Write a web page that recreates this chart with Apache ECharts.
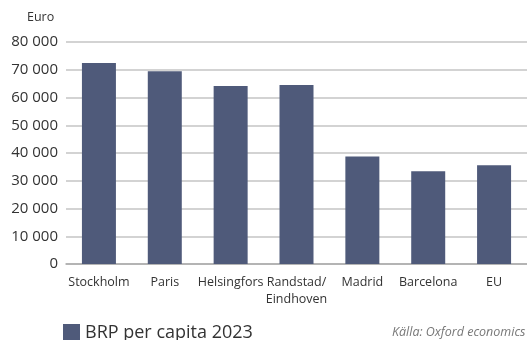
<!DOCTYPE html>
<html><head><meta charset="utf-8">
<script src="https://cdn.jsdelivr.net/npm/echarts@6/dist/echarts.min.js"></script>
<style>html,body{margin:0;padding:0;background:#fff}#c{width:527px;height:340px}</style>
</head><body><div id="c"></div>
<script>
const categories = ['Stockholm','Paris','Helsingfors','Randstad/\nEindhoven','Madrid','Barcelona','EU'];
const values = [72400, 69500, 64100, 64500, 38700, 33400, 35600];
const seriesName = 'BRP per capita 2023';
const yUnit = 'Euro';
const sourceText = 'Källa: Oxford economics';

const chart = echarts.init(document.getElementById('c'), null, {renderer:'canvas'});
const font = '"Open Sans", sans-serif';
chart.setOption({
  animation:false,
  grid:{left:66, right:-4, top:42, bottom:76},
  legend:{
    data:[seriesName], left:58, top:319, itemWidth:17, itemHeight:18, itemGap:10,
    icon:'rect',
    textStyle:{fontFamily:font, fontSize:18, color:'#333'}
  },
  graphic:[
    {type:'text', left:27, top:11, style:{text:yUnit, fontFamily:font, fontSize:12.5, fill:'#333'}},
    {type:'text', left:392, top:326, style:{text:sourceText, fontFamily:font, fontSize:12.5, fontStyle:'italic', fill:'#777'}}
  ],
  xAxis:{
    type:'category', data:categories,
    axisTick:{show:false},
    axisLine:{lineStyle:{color:'#aaa', width:1.5}},
    axisLabel:{fontFamily:font, fontSize:12.5, color:'#333', margin:10, interval:0, lineHeight:17}
  },
  yAxis:{
    type:'value', min:0, max:80000, interval:10000,
    axisLine:{show:false}, axisTick:{show:false},
    splitLine:{lineStyle:{color:'#c4c4c4', width:1.5}},
    axisLabel:{fontFamily:font, fontSize:15, color:'#333', margin:8,
      formatter:v=>v===0?'0':String(v).replace(/\B(?=(\d{3})+(?!\d))/g,' ')}
  },
  series:[{
    name:seriesName, type:'bar', data:values, barWidth:34,
    itemStyle:{color:'#4f5a7a'}
  }]
});
</script></body></html>
